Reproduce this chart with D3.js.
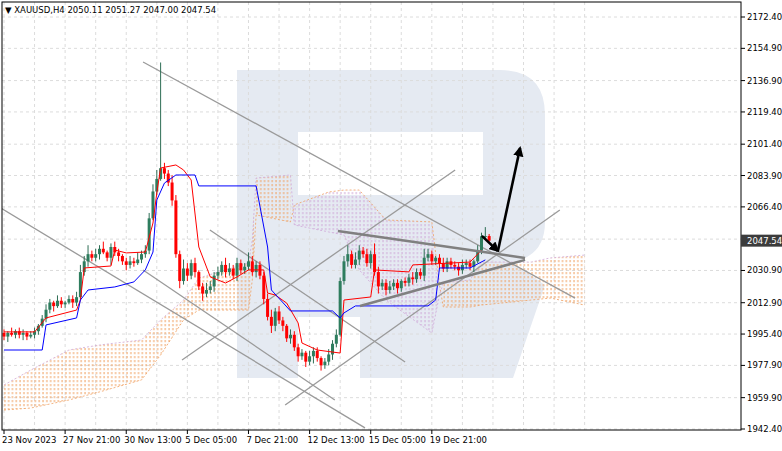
<!DOCTYPE html>
<html>
<head>
<meta charset="utf-8">
<script src="https://d3js.org/d3.v7.min.js"></script>
<style>
  body { margin: 0; background: #fff; }
  svg text { font-family: "DejaVu Sans", sans-serif; font-size: 8.5px; fill: #000; }
</style>
</head>
<body>
<script>
  // XAUUSD H4 candles, open of each bar = previous close
  var firstOpen = 1996;
  var closes = [1994,1996,1995,1997,1995,1996,1994,1995,1997,
    2000,2004,2009,
    2013,2011,2014,2012,2013,2015,2013,2016,
    2030,2036,2040,2038,
    2040,2043,2041,2038,2044,2041,2039,
    2036,2034,2036,2035,2037,2040,2042,
    2060,2075,2082,2088,2085,2080,2070,
    2040,2025,2032,2028,2035,2030,2022,2018,2020,2022,2028,2030,2034,2030,2032,2028,2035,2031,2033,2036,2030,2034,2028,
    2015,2005,2000,2008,2003,2000,1993,1995,1988,1983,1985,1980,1983,1986,1982,1978,1980,1984,1990,1995,
    2025,2036,2040,2034,2037,2042,2040,2035,2040,2030,2022,2024,2020,2022,2024,2021,2025,2024,2027,2026,
    2030,2028,2038,2040,2036,2038,2035,2032,2036,2034,2033,2031,2034,2035,2033,2036,2042,2050,2050.11,2047.54];
  var upperWick = [2,1,3,1,2,2,1,2,2, 1,2,3, 2,1,3,2,1,2,2,3, 4,3,5,2, 3,2,4,1,2,3,2, 1,2,3,2,4,2,3, 3,4,5,59,3,2,4,
    3,2,5,3,2,3,1,2,4,3, 2,3,2,4,3,2,3,2,2,5, 3,2,2,
    2,3,4,2,3,2,1,3,2,2, 2,1,3,2,2,1,2,3,2,3,
    2,3,5,2,4,3,2,3,2,6, 3,2,2,3,2,2,1,2,2,3, 2,2,5,3,2,1,2,3,2,2, 2,2,3,2,2,1,3,2,5,1.16];
  var lowerWick = [2,3,1,2,2,3,2,1,2, 2,1,2, 2,3,1,2,2,1,3,2, 1,2,3,2, 2,3,1,2,4,2,3, 2,3,2,2,1,2,2, 2,1,2,1,3,2,3,
    2,4,2,3,2,3,2,4,2,2, 3,2,2,3,2,2,3,2,2,2, 2,3,2,
    3,2,4,3,2,3,2,3,2,3, 2,3,2,4,2,3,2,2,3,2,
    1,2,3,2,2,3,2,2,3,2, 4,2,3,2,2,3,2,2,2,3, 2,2,3,2,2,2,3,2,2,2, 2,3,2,2,2,3,1,2,2,0.54];

  // Ichimoku lines: [bar index, price]
  var tenkan = [[0,1996.6],[8,1996.6],[11,2004.4],[19,2008.8],[20,2014.4],[21,2032.3],[28,2033.4],[29,2042.3],
    [32,2040.7],[37,2041.2],[39,2057.4],[40,2074.2],[41,2088.1],[45,2089.8],[47,2087],[49,2081.4],[51,2044],
    [54,2027.3],[58,2023.9],[61,2027.3],[64,2031.2],[68,2031.2],[69,2018.3],[71,2017.2],[74,2012.7],[77,2001.6],
    [78,1990.4],[82,1986.5],[88,1984.8],[89,2014.4],[96,2016.1],[97,2031.2],[106,2030.1],[107,2034],[122,2035.6],[125,2042.3]];
  var kijun = [[0,1986.5],[10,1986.5],[11,2000.5],[19,2004.4],[20,2014.4],[22,2020],[29,2021.7],[34,2024.5],
    [37,2031.2],[39,2041.2],[40,2070.2],[42,2079.7],[45,2084.2],[50,2084.2],[51,2078.1],[66,2078.1],[69,2044],
    [70,2020],[75,2008.3],[86,2008.3],[88,2004.4],[89,2007.2],[92,2011.1],[111,2011.1],[113,2014.4],[114,2032.3],
    [122,2032.3],[126,2036.8]];
  // cloud: [bar index, span A, span B]
  var kumo = [[0,1953,1967],[7,1954.1,1975.3],[17,1958.6,1986.5],[25,1963.1,1989.3],[36,1969.8,1992.1],
    [41,1983.7,2003.3],[47,2003.3,2014.4],[51,2008.8,2026.7],[64,2008.8,2035.1],[65,2025.6,2047.9],
    [66,2061.9,2082.5],[75,2058,2084.2],
    [76,2067.5,2056.3],[85,2074.7,2052.4],[89,2075.8,2050.7],[93,2075.8,2031.2],[100,2059.1,2014.4],
    [112,2058,1996],[114,2022.8,2017.2],
    [115,2010.5,2023.9],[122,2010.5,2025.6],[125,2011.6,2035.6],[138,2014.4,2035.6],[143,2015.5,2037.9],[152,2011.6,2039.5]];

  // drawn objects: [i1, p1, i2, p2]
  var thinLines = [[36.4,2147.3,149.5,2015.5],[-1,2066,94.5,1943],[36.4,2031.2,86.6,1958.6],
    [53.9,2053.5,105,1979.8],[46.6,1980.9,118.1,2087],[73.6,1955.8,145.5,2064.7]];
  var thickLines = [[87.4,2052.9,136.4,2037.9],[93.2,2011.1,136.4,2036.8]];
  var arrows = [[129.3,2041.8,135.1,2099.3],[125.1,2050.2,129.3,2041.8]];

  var priceTicks = [2172.40,2154.90,2136.90,2119.40,2101.40,2083.90,2066.40,2030.90,2012.90,1995.40,1977.90,1959.90,1942.40];
  var timeLabels = ["23 Nov 2023","27 Nov 21:00","30 Nov 13:00","5 Dec 05:00","7 Dec 21:00","12 Dec 13:00","15 Dec 05:00","19 Dec 21:00"];
  var timeIdx = [0,16,32,48,64,80,96,112];
  var lastPrice = 2047.54;

  var W = 782, H = 451, pL = 2, pT = 2, pR = 741, pB = 430;
  var x = d3.scaleLinear().domain([0, 127]).range([4, 4 + 127 * 3.82]);
  var y = d3.scaleLinear().domain([1942.4, 2172.4]).range([429, 17]);

  var svg = d3.select("body").append("svg").attr("width", W).attr("height", H);
  var defs = svg.append("defs");
  [["dotO","#f0a060"],["dotV","#cfa8d8"]].forEach(function(p) {
    var pat = defs.append("pattern").attr("id", p[0]).attr("patternUnits", "userSpaceOnUse")
      .attr("width", 3.82).attr("height", 4);
    pat.append("line").attr("x1", 1).attr("x2", 1).attr("y1", 0).attr("y2", 2.2)
      .attr("stroke", p[1]).attr("stroke-width", 1);
  });
  defs.append("marker").attr("id", "ah").attr("viewBox", "0 0 10 10").attr("refX", 8).attr("refY", 5)
    .attr("markerWidth", 4).attr("markerHeight", 4).attr("orient", "auto")
    .append("path").attr("d", "M0,0L10,5L0,10Z").attr("fill", "#000");
  defs.append("clipPath").attr("id", "plot").append("rect")
    .attr("x", pL).attr("y", pT).attr("width", pR - pL).attr("height", pB - pT);

  // watermark logo
  svg.append("path")
    .attr("d", "M237,70L500,70Q545,70 545,115L545,222Q545,256 512,262L545,285L513,378L360,378L360,317L298,317L298,378L237,378Z" +
               "M298,132L483,132L483,195L298,195Z")
    .attr("fill", "#e5eaf2").attr("fill-rule", "evenodd");

  // grid
  var g = svg.append("g").attr("clip-path", "url(#plot)");
  g.selectAll(".hg").data(priceTicks.concat([2048.4])).enter().append("line")
    .attr("x1", pL).attr("x2", pR).attr("y1", function(d) { return y(d); }).attr("y2", function(d) { return y(d); })
    .attr("stroke", "#dcdcdc").attr("stroke-dasharray", "3,3");
  g.selectAll(".vg").data(d3.range(0, 160, 8)).enter().append("line")
    .attr("x1", function(d) { return x(d); }).attr("x2", function(d) { return x(d); })
    .attr("y1", pT).attr("y2", pB)
    .attr("stroke", "#dcdcdc").attr("stroke-dasharray", "3,3");

  // cloud, split where the spans swap
  var segs = [], cur = null;
  kumo.forEach(function(k) {
    var c = k[1] > k[2] ? "V" : "O";
    if (!cur || cur.c !== c) { cur = { c: c, pts: [] }; segs.push(cur); }
    cur.pts.push(k);
  });
  var area = d3.area().x(function(d) { return x(d[0]); })
    .y0(function(d) { return y(d[1]); }).y1(function(d) { return y(d[2]); });
  var spanLine = function(j) { return d3.line().x(function(d) { return x(d[0]); }).y(function(d) { return y(d[j]); }); };
  segs.forEach(function(s) {
    g.append("path").attr("d", area(s.pts)).attr("fill", "url(#dot" + s.c + ")");
  });
  g.append("path").attr("d", spanLine(1)(kumo)).attr("fill", "none").attr("stroke", "#f0a060")
    .attr("stroke-width", 0.8).attr("stroke-dasharray", "2,2");
  g.append("path").attr("d", spanLine(2)(kumo)).attr("fill", "none").attr("stroke", "#cfa8d8")
    .attr("stroke-width", 0.8).attr("stroke-dasharray", "2,2");

  // trend lines
  g.selectAll(".tl").data(thinLines).enter().append("line")
    .attr("x1", function(d) { return x(d[0]); }).attr("y1", function(d) { return y(d[1]); })
    .attr("x2", function(d) { return x(d[2]); }).attr("y2", function(d) { return y(d[3]); })
    .attr("stroke", "#9a9a9a").attr("stroke-width", 1.3);

  // candles
  var bars = closes.map(function(c, i) {
    var o = i === 0 ? firstOpen : closes[i - 1];
    return { i: i, o: o, c: c, h: Math.max(o, c) + upperWick[i], l: Math.min(o, c) - lowerWick[i] };
  });
  var cg = g.selectAll(".c").data(bars).enter().append("g");
  cg.append("line")
    .attr("x1", function(d) { return x(d.i); }).attr("x2", function(d) { return x(d.i); })
    .attr("y1", function(d) { return y(d.h); }).attr("y2", function(d) { return y(d.l); })
    .attr("stroke", function(d) { return d.c >= d.o ? "#2e6e55" : "#ff0000"; });
  cg.append("rect")
    .attr("x", function(d) { return x(d.i) - 1.5; }).attr("width", 3)
    .attr("y", function(d) { return y(Math.max(d.o, d.c)); })
    .attr("height", function(d) { return Math.max(1, Math.abs(y(d.o) - y(d.c))); })
    .attr("fill", function(d) { return d.c >= d.o ? "#2e7d5e" : "#ff0000"; });

  var ln = d3.line().x(function(d) { return x(d[0]); }).y(function(d) { return y(d[1]); });
  g.append("path").attr("d", ln(tenkan)).attr("fill", "none").attr("stroke", "#ff0000").attr("stroke-width", 1);
  g.append("path").attr("d", ln(kijun)).attr("fill", "none").attr("stroke", "#0000ff").attr("stroke-width", 1);

  g.selectAll(".kl").data(thickLines).enter().append("line")
    .attr("x1", function(d) { return x(d[0]); }).attr("y1", function(d) { return y(d[1]); })
    .attr("x2", function(d) { return x(d[2]); }).attr("y2", function(d) { return y(d[3]); })
    .attr("stroke", "#808080").attr("stroke-width", 2.5);
  g.selectAll(".ar").data(arrows).enter().append("line")
    .attr("x1", function(d) { return x(d[0]); }).attr("y1", function(d) { return y(d[1]); })
    .attr("x2", function(d) { return x(d[2]); }).attr("y2", function(d) { return y(d[3]); })
    .attr("stroke", "#000").attr("stroke-width", 2.6).attr("marker-end", "url(#ah)");

  // frame and axes
  svg.append("rect").attr("x", pL).attr("y", pT).attr("width", pR - pL).attr("height", pB - pT)
    .attr("fill", "none").attr("stroke", "#000").attr("stroke-width", 1);
  var yt = svg.selectAll(".yt").data(priceTicks).enter().append("g");
  yt.append("line").attr("x1", pR).attr("x2", pR + 4)
    .attr("y1", function(d) { return y(d); }).attr("y2", function(d) { return y(d); }).attr("stroke", "#000");
  yt.append("text").attr("x", pR + 6).attr("y", function(d) { return y(d) + 3; })
    .text(function(d) { return d.toFixed(2); });
  svg.append("rect").attr("x", pR).attr("y", y(lastPrice) - 6).attr("width", W - pR).attr("height", 12).attr("fill", "#3c3c3c");
  svg.append("text").attr("x", pR + 6).attr("y", y(lastPrice) + 3).style("fill", "#fff").text(lastPrice.toFixed(2));

  var xt = svg.selectAll(".xt").data(timeLabels).enter().append("g");
  xt.append("line").attr("x1", function(d, i) { return x(timeIdx[i]); }).attr("x2", function(d, i) { return x(timeIdx[i]); })
    .attr("y1", pB).attr("y2", pB + 4).attr("stroke", "#000");
  xt.append("text").attr("x", function(d, i) { return x(timeIdx[i]) - 2; }).attr("y", pB + 13).text(function(d) { return d; });

  svg.append("text").attr("x", 5).attr("y", 13).text("\u25BC XAUUSD,H4  2050.11 2051.27 2047.00 2047.54");
</script>
</body>
</html>
